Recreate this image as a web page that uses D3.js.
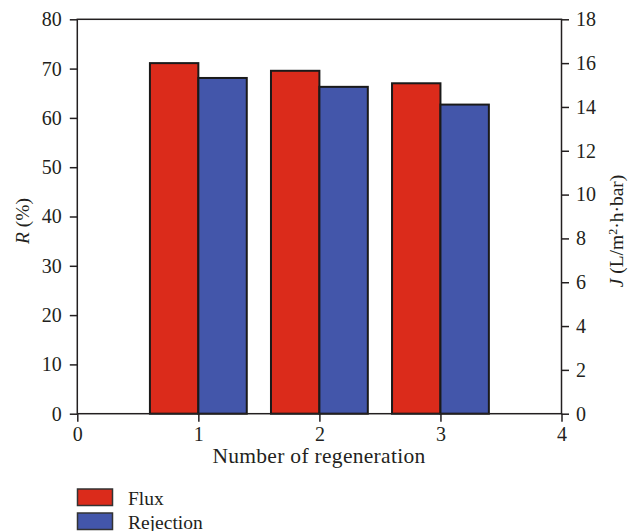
<!DOCTYPE html>
<html>
<head>
<meta charset="utf-8">
<script src="https://cdn.jsdelivr.net/npm/d3@7"></script>
<style>
  html, body { margin: 0; padding: 0; background: #fff; }
  svg text { font-family: "Liberation Serif", "DejaVu Serif", serif; fill: #231f20; }
</style>
</head>
<body>
<svg id="chart" width="628" height="531"></svg>
<script>
// Regeneration cycles and the measured values for each
const cycles = [1, 2, 3];
const fluxValues = [16.0, 15.65, 15.08];       // J (L/m²·h·bar), right axis
const rejectionValues = [68.1, 66.3, 62.7];    // R (%), left axis
const xTicks = [0, 1, 2, 3, 4];
const rTicks = [0, 10, 20, 30, 40, 50, 60, 70, 80];
const jTicks = [0, 2, 4, 6, 8, 10, 12, 14, 16, 18];
const seriesNames = ["Flux", "Rejection"];
const seriesColors = ["#db2b1b", "#4356aa"];

const svg = d3.select("#chart");
const m = { left: 77.3, right: 561.5, top: 19.3, bottom: 413.7 };
const tickFont = 20;
const labelFont = 19.5;

const x = d3.scaleLinear().domain([0, 4]).range([m.left, m.right]);
const yR = d3.scaleLinear().domain([0, 80]).range([m.bottom, m.top]);
const yJ = d3.scaleLinear().domain([0, 18]).range([m.bottom, m.top]);
const barW = 0.4;

// Bars: flux sits left of each cycle tick, rejection to the right
const g = svg.append("g");
g.selectAll("rect.flux").data(cycles).join("rect")
  .attr("class", "flux")
  .attr("x", d => x(d - barW))
  .attr("width", d => x(d) - x(d - barW))
  .attr("y", (d, i) => yJ(fluxValues[i]))
  .attr("height", (d, i) => yJ(0) - yJ(fluxValues[i]))
  .attr("fill", seriesColors[0])
  .attr("stroke", "#1a1a1a").attr("stroke-width", 2);

g.selectAll("rect.rej").data(cycles).join("rect")
  .attr("class", "rej")
  .attr("x", d => x(d))
  .attr("width", d => x(d + barW) - x(d))
  .attr("y", (d, i) => yR(rejectionValues[i]))
  .attr("height", (d, i) => yR(0) - yR(rejectionValues[i]))
  .attr("fill", seriesColors[1])
  .attr("stroke", "#1a1a1a").attr("stroke-width", 2);

function styleAxis(sel) {
  sel.select(".domain").remove();
  sel.selectAll(".tick line").attr("stroke", "#231f20").attr("stroke-width", 1.5);
  sel.selectAll(".tick text").style("font-size", tickFont + "px");
}

// Left axis (R)
svg.append("g").attr("transform", `translate(${m.left},0)`)
  .call(d3.axisLeft(yR).tickValues(rTicks).tickSize(7.5).tickPadding(8).tickFormat(d3.format("d")))
  .call(styleAxis);

// Right axis (J)
svg.append("g").attr("transform", `translate(${m.right},0)`)
  .call(d3.axisRight(yJ).tickValues(jTicks).tickSize(7.5).tickPadding(7).tickFormat(d3.format("d")))
  .call(styleAxis);

// Bottom axis
svg.append("g").attr("transform", `translate(0,${m.bottom})`)
  .call(d3.axisBottom(x).tickValues(xTicks).tickSize(8).tickPadding(5).tickFormat(d3.format("d")))
  .call(styleAxis);

// Frame
svg.append("rect")
  .attr("x", m.left).attr("y", m.top)
  .attr("width", m.right - m.left).attr("height", m.bottom - m.top)
  .attr("fill", "none").attr("stroke", "#231f20").attr("stroke-width", 1.5);

// Axis titles
svg.append("text")
  .attr("x", 319).attr("y", 463)
  .attr("text-anchor", "middle").style("font-size", "21.5px")
  .style("letter-spacing", "0.3px")
  .text("Number of regeneration");

const rLabel = svg.append("text")
  .attr("transform", "translate(29,221) rotate(-90)")
  .attr("text-anchor", "middle").style("font-size", labelFont + "px");
rLabel.append("tspan").style("font-style", "italic").text("R");
rLabel.append("tspan").text(" (%)");

const jLabel = svg.append("text")
  .attr("transform", "translate(623,231) rotate(-90)")
  .attr("text-anchor", "middle").style("font-size", labelFont + "px");
jLabel.append("tspan").style("font-style", "italic").text("J");
jLabel.append("tspan").text(" (L/m");
jLabel.append("tspan").attr("dy", -6).style("font-size", "12px").text("2");
jLabel.append("tspan").attr("dy", 6).text("·h·bar)");

// Legend
const legend = svg.append("g");
seriesNames.forEach((name, i) => {
  const ly = 489 + i * 24;
  legend.append("rect")
    .attr("x", 77.5).attr("y", ly).attr("width", 35).attr("height", 16.5)
    .attr("fill", seriesColors[i]).attr("stroke", "#333").attr("stroke-width", 1.5);
  legend.append("text")
    .attr("x", 128).attr("y", ly + 15.5)
    .style("font-size", labelFont + "px").text(name);
});
</script>
</body>
</html>
